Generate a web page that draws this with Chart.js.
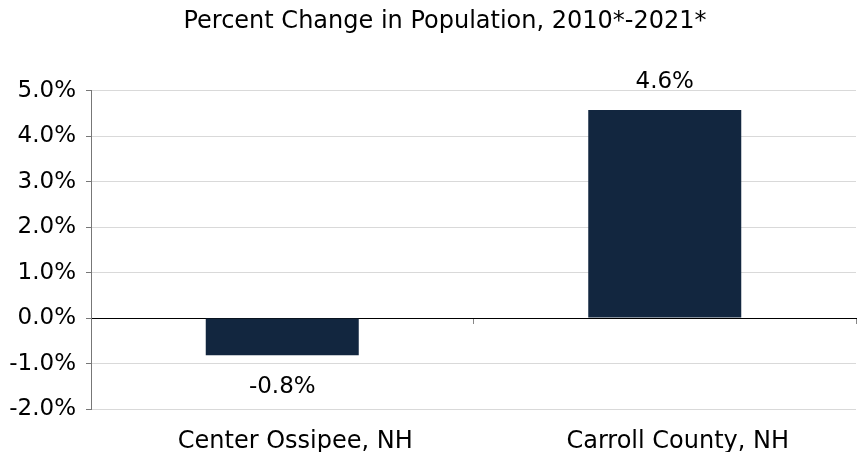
<!DOCTYPE html>
<html>
<head>
<meta charset="utf-8">
<script src="https://cdn.jsdelivr.net/npm/chart.js@4"></script>
<style>
    html, body { margin: 0; padding: 0; background: #fff; }
    #wrap { width: 861px; height: 452px; }
</style>
</head>
<body>
<div id="wrap"><canvas id="chart"></canvas></div>
<script>
// data
const categories = ['Center Ossipee, NH', 'Carroll County, NH'];
const changeValues = [-0.82, 4.58];
const yTicks = [-2, -1, 0, 1, 2, 3, 4, 5];
const chartTitle = 'Percent Change in Population, 2010*-2021*';

const barColor = '#12263f';
const fontFamily = '"DejaVu Sans", sans-serif';

// value labels above / below bars
const valueLabels = {
    id: 'valueLabels',
    afterDatasetsDraw(chart) {
        const ctx = chart.ctx;
        const meta = chart.getDatasetMeta(0);
        ctx.save();
        ctx.font = '23px ' + fontFamily;
        ctx.fillStyle = '#000';
        ctx.textAlign = 'center';
        meta.data.forEach((bar, i) => {
            const v = changeValues[i];
            const text = v.toFixed(1) + '%';
            if (v >= 0) {
                ctx.textBaseline = 'bottom';
                ctx.fillText(text, bar.x, bar.y - 16);
            } else {
                ctx.textBaseline = 'top';
                ctx.fillText(text, bar.x, bar.y + 20);
            }
        });
        ctx.restore();
    }
};

// nudge the title a little right of the canvas centre, like the original
const titleShift = {
    id: 'titleShift',
    afterLayout(chart) {
        const t = chart.titleBlock;
        if (t) {
            t.left += 17;
            t.right += 17;
        }
    }
};

const ctx = document.getElementById('chart').getContext('2d');
new Chart(ctx, {
    type: 'bar',
    data: {
        labels: categories,
        datasets: [{
            data: changeValues,
            backgroundColor: barColor,
            borderWidth: 0,
            barPercentage: 0.4,
            categoryPercentage: 1.0
        }]
    },
    options: {
        responsive: true,
        maintainAspectRatio: false,
        animation: false,
        layout: { padding: { left: 0, right: 5, top: 0, bottom: 0 } },
        scales: {
            x: {
                position: 'bottom',
                grid: { display: false },
                border: { display: false },
                afterFit: s => { s.height = 43; },
                ticks: {
                    color: '#000',
                    padding: 10,
                    labelOffset: 13,
                    maxRotation: 0,
                    font: { family: fontFamily, size: 24 }
                }
            },
            x2: {
                type: 'category',
                labels: categories,
                position: { y: 0 },
                grid: {
                    offset: true,
                    drawOnChartArea: false,
                    tickLength: 5,
                    tickColor: '#888'
                },
                border: { color: '#000', width: 1 },
                ticks: { display: false }
            },
            y: {
                min: -2,
                max: 5,
                afterBuildTicks: axis => {
                    axis.ticks = yTicks.map(v => ({ value: v }));
                },
                afterFit: s => { s.width = 91; },
                grid: {
                    color: '#d9d9d9',
                    tickColor: '#777',
                    tickLength: 5
                },
                border: { color: '#777' },
                ticks: {
                    color: '#000',
                    padding: 10,
                    font: { family: fontFamily, size: 23 },
                    callback: value => value.toFixed(1) + '%'
                }
            }
        },
        plugins: {
            legend: { display: false },
            tooltip: { enabled: false },
            title: {
                display: true,
                text: chartTitle,
                color: '#000',
                font: { family: fontFamily, size: 24, weight: 'normal' },
                padding: { top: 7, bottom: 55 }
            }
        }
    },
    plugins: [valueLabels, titleShift]
});
</script>
</body>
</html>
